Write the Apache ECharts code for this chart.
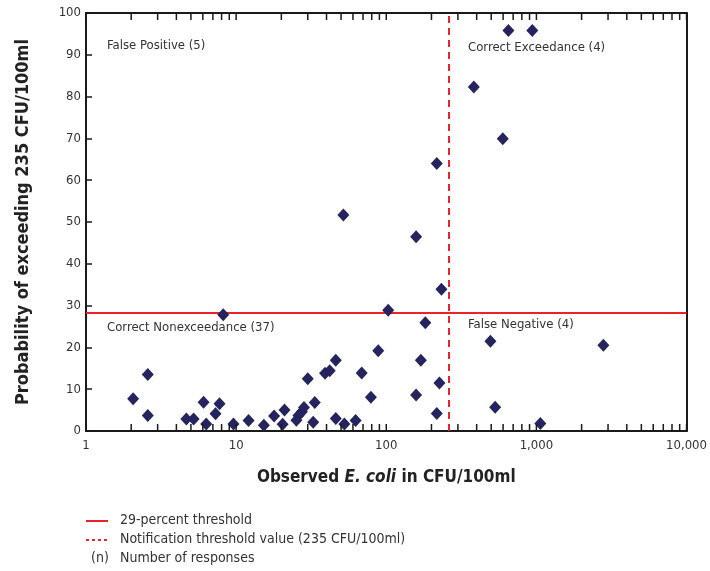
<!DOCTYPE html>
<html>
<head>
<meta charset="utf-8">
<script src="https://cdn.jsdelivr.net/npm/echarts@6/dist/echarts.min.js"></script>
<style>
html,body{margin:0;padding:0;background:#fff;}
#chart{width:710px;height:571px;}
</style>
</head>
<body>
<div id="chart"></div>
<script>
// Observed E. coli (CFU/100ml)
var observedEcoli = [
  8.2, 2.58, 2.06, 2.58, 4.66, 5.21, 6.07, 6.32, 7.29, 7.75,
  9.6, 12.1, 15.3, 17.9, 20.4, 21.0, 25.2, 26.0, 27.4, 28.3,
  30.0, 32.6, 33.4, 39.1, 42.0, 46.1, 46.1, 52.6, 62.5, 68.6,
  79.0, 88.4, 182, 170, 226, 158, 217,
  103, 51.8, 158, 217, 233,
  383, 597, 651, 939,
  494, 531, 1062, 2793
];
// Probability of exceeding 235 CFU/100ml (percent)
var probability = [
  27.8, 13.5, 7.7, 3.7, 2.9, 2.9, 6.9, 1.7, 4.1, 6.5,
  1.7, 2.5, 1.4, 3.6, 1.6, 5.0, 2.6, 3.7, 4.6, 5.6,
  12.5, 2.1, 6.8, 13.8, 14.4, 16.9, 3.0, 1.7, 2.5, 13.9,
  8.1, 19.2, 25.9, 16.9, 11.5, 8.6, 4.2,
  28.9, 51.7, 46.5, 64.0, 33.9,
  82.3, 69.9, 95.8, 95.8,
  21.5, 5.7, 1.8, 20.5
];
var probabilityThreshold = 28.3;   // 29-percent threshold line (as drawn)
var notificationThreshold = 260;   // dashed notification threshold line (as drawn)
var xTickValues = [1, 10, 100, 1000, 10000];
var yTickValues = [0, 10, 20, 30, 40, 50, 60, 70, 80, 90, 100];
var minorXTicks = [];
[1, 10, 100, 1000].forEach(function (d) {
  for (var k = 2; k <= 9; k++) minorXTicks.push(k * d);
});
var allXTicks = xTickValues.concat(minorXTicks);

var FONT = "'Liberation Sans Narrow', 'DejaVu Sans Condensed', 'Arial Narrow', sans-serif";
var NAVY = '#25245e';
var RED = '#e8242a';
var INK = '#1a1a1a';

var points = observedEcoli.map(function (x, i) { return [x, probability[i]]; });

var chart = echarts.init(document.getElementById('chart'), null, {renderer: 'canvas'});
var option = {
  backgroundColor: '#fff',
  animation: false,
  textStyle: {fontFamily: FONT},
  grid: {left: 86, right: 21, top: 13, bottom: 140, containLabel: false},
  xAxis: [{
    type: 'log', logBase: 10, min: 1, max: 10000, position: 'bottom',
    axisLine: {show: true, onZero: false, lineStyle: {color: INK, width: 2}},
    axisTick: {show: false},
    splitLine: {show: false},
    axisLabel: {
      color: '#333', fontSize: 13, fontFamily: FONT, margin: 8,
      formatter: function (v) { return Math.round(v).toLocaleString('en-US'); }
    },
    name: '{b|Observed }{i|E. coli}{b| in CFU/100ml}',
    nameLocation: 'middle', nameGap: 38,
    nameTextStyle: {
      rich: {
        b: {fontSize: 17, fontWeight: 'bold', color: '#222', fontFamily: FONT},
        i: {fontSize: 17, fontWeight: 'bold', fontStyle: 'italic', color: '#222', fontFamily: FONT}
      }
    }
  }, {
    type: 'log', logBase: 10, min: 1, max: 10000, position: 'top',
    axisLine: {show: true, onZero: false, lineStyle: {color: INK, width: 2}},
    axisTick: {show: false},
    axisLabel: {show: false}, splitLine: {show: false}
  }],
  yAxis: [{
    type: 'value', min: 0, max: 100, interval: 10, position: 'left',
    axisLine: {show: true, onZero: false, lineStyle: {color: INK, width: 2}},
    axisTick: {show: true, inside: true, length: 6, lineStyle: {color: INK, width: 1.5}},
    splitLine: {show: false},
    axisLabel: {color: '#333', fontSize: 13, fontFamily: FONT, margin: 5},
    name: 'Probability of exceeding 235 CFU/100ml',
    nameLocation: 'middle', nameGap: 54, nameRotate: 90,
    nameTextStyle: {fontSize: 18, fontWeight: 'bold', color: '#222', fontFamily: FONT}
  }, {
    type: 'value', min: 0, max: 100, interval: 10, position: 'right',
    axisLine: {show: true, onZero: false, lineStyle: {color: INK, width: 2}},
    axisTick: {show: false}, axisLabel: {show: false}, splitLine: {show: false}
  }],
  series: [{
    type: 'custom',
    xAxisIndex: 0, yAxisIndex: 0,
    silent: true,
    clip: false,
    z: 10,
    data: allXTicks.map(function (v) { return [v, 50]; }),
    renderItem: function (params, api) {
      var v = api.value(0);
      var p = api.coord([v, 50]);
      var cs = params.coordSys;
      var top = cs.y;
      var bottom = cs.y + cs.height;
      return {
        type: 'group',
        children: [
          {type: 'rect', shape: {x: p[0] - 0.75, y: bottom - 7, width: 1.5, height: 7}, style: {fill: INK}},
          {type: 'rect', shape: {x: p[0] - 0.75, y: top, width: 1.5, height: 7}, style: {fill: INK}}
        ]
      };
    },
    encode: {x: 0, y: 1}
  }, {
    type: 'scatter',
    xAxisIndex: 0, yAxisIndex: 0,
    data: points,
    symbol: 'diamond',
    symbolSize: [12, 13],
    itemStyle: {color: NAVY, opacity: 1},
    z: 5,
    markLine: {
      silent: true,
      symbol: 'none',
      label: {show: false},
      data: [
        {yAxis: probabilityThreshold, lineStyle: {color: RED, width: 2, type: 'solid'}},
        {xAxis: notificationThreshold, lineStyle: {color: RED, width: 2, type: [7, 5]}}
      ]
    }
  }],
  graphic: [
    {type: 'text', left: 107, top: 39, style: {text: 'False Positive (5)', fill: '#333', font: '13px ' + FONT}},
    {type: 'text', left: 468, top: 41, style: {text: 'Correct Exceedance (4)', fill: '#333', font: '13px ' + FONT}},
    {type: 'text', left: 107, top: 321, style: {text: 'Correct Nonexceedance (37)', fill: '#333', font: '13px ' + FONT}},
    {type: 'text', left: 468, top: 318, style: {text: 'False Negative (4)', fill: '#333', font: '13px ' + FONT}},
    {type: 'line', shape: {x1: 86, y1: 521, x2: 108, y2: 521}, style: {stroke: RED, lineWidth: 2}},
    {type: 'line', shape: {x1: 86, y1: 540, x2: 108, y2: 540}, style: {stroke: RED, lineWidth: 2, lineDash: [3, 3]}},
    {type: 'text', left: 120, top: 513, style: {text: '29-percent threshold', fill: '#333', font: '14px ' + FONT}},
    {type: 'text', left: 120, top: 532, style: {text: 'Notification threshold value (235 CFU/100ml)', fill: '#333', font: '14px ' + FONT}},
    {type: 'text', left: 91, top: 551, style: {text: '(n)', fill: '#333', font: '14px ' + FONT}},
    {type: 'text', left: 120, top: 551, style: {text: 'Number of responses', fill: '#333', font: '14px ' + FONT}}
  ]
};
chart.setOption(option);
</script>
</body>
</html>
